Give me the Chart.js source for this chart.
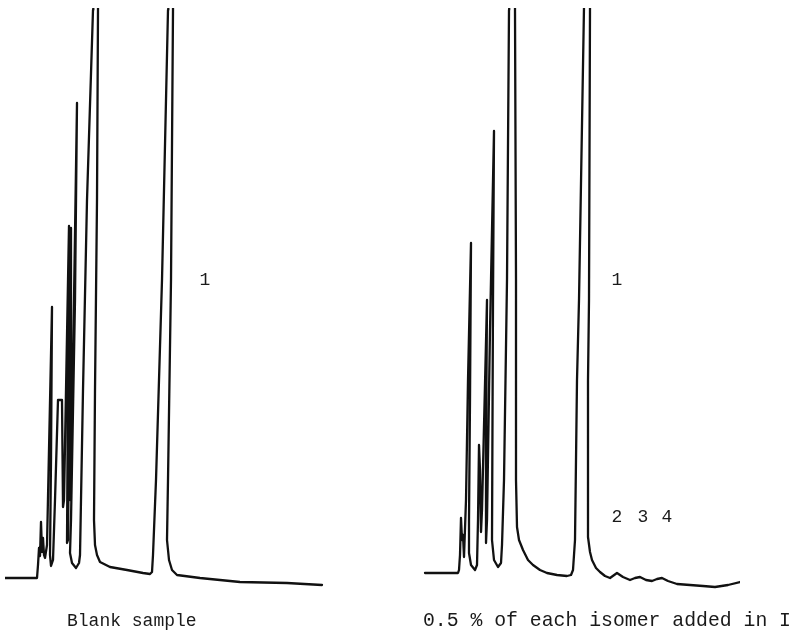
<!DOCTYPE html>
<html>
<head>
<meta charset="utf-8">
<script src="https://cdn.jsdelivr.net/npm/chart.js@4.4.1/dist/chart.umd.min.js"></script>
<style>
  html, body { margin: 0; padding: 0; background: #fff; }
  #wrap { position: relative; width: 797px; height: 636px; overflow: hidden; }
  .cv { position: absolute; top: 0; }
</style>
</head>
<body>
<div id="wrap">
  <div class="cv" style="left:0;width:400px;height:636px"><canvas id="left"></canvas></div>
  <div class="cv" style="left:400px;width:397px;height:636px"><canvas id="right"></canvas></div>
</div>
<script>
// ---- Blank sample trace: retention time (min) and detector response (arbitrary units)
const leftTime = [0, 3.2, 3.3, 3.4, 3.5, 3.6, 3.7, 3.8, 3.9, 4.0, 4.2, 4.7, 4.6, 4.5, 4.6, 4.8, 5.0, 5.3, 5.7, 5.8, 5.9,
  6.4, 6.3, 6.2, 6.3, 6.6, 6.6, 6.5, 6.6, 7.2, 7.0, 6.6, 6.5, 6.7, 7.1, 7.4, 7.5, 7.8, 8.2, 8.8, 8.83, 9.3, 9.3, 9.2,
  9.0, 8.9, 9.0, 9.2, 9.5, 10.5, 12.2, 13.8, 14.5, 14.7, 14.8, 15.1, 15.7, 16.3, 16.33, 16.8, 16.8, 16.6, 16.3, 16.2,
  16.4, 16.7, 17.2, 19.5, 23.5, 28.2, 31.7];
const leftResponse = [0, 0, 13, 30, 22, 56, 26, 40, 23, 20, 33, 271, 118, 23, 12, 18, 78, 178, 178, 71, 78,
  352, 198, 35, 38, 350, 178, 78, 83, 475, 278, 58, 25, 15, 10, 15, 23, 188, 378, 568, 618, 618, 568, 378,
  188, 58, 33, 23, 16, 11, 8, 5, 4, 6, 23, 98, 298, 568, 618, 618, 568, 298, 98, 38,
  18, 8, 3, 0, -4, -5, -7];

// ---- Spiked sample trace (0.5 % of each isomer added)
const rightTime = [0.5, 3.8, 3.9, 4.0, 4.1, 4.2, 4.3, 4.4, 4.6, 4.8, 5.1, 5.0, 4.9, 4.9, 5.1, 5.5, 5.7, 5.8, 5.9, 6.0,
  6.1, 6.2, 6.7, 6.6, 6.6, 6.7, 7.0, 7.4, 7.3, 7.2, 7.4, 7.8, 8.1, 8.2, 8.4, 8.7, 8.9, 8.92, 9.5, 9.5, 9.6, 9.6,
  9.7, 9.9, 10.3, 10.8, 11.3, 12.0, 12.7, 13.7, 14.7, 15.1, 15.3, 15.5, 15.7, 15.9, 16.4, 16.42, 17.0, 17.0, 16.9,
  16.8, 16.8, 17.0, 17.2, 17.6, 18.0, 18.5, 19.0, 19.7, 20.3, 21.0, 21.5, 22.0, 22.6, 23.2, 23.7, 24.2, 24.8,
  25.7, 27.0, 28.3, 29.5, 30.8, 32.0];
const rightResponse = [5, 5, 8, 23, 60, 38, 43, 21, 78, 198, 335, 178, 58, 25, 13, 8, 13, 58, 133, 108,
  46, 68, 278, 128, 35, 58, 248, 447, 278, 38, 18, 11, 15, 33, 98, 298, 568, 618, 618, 568, 298, 98,
  51, 38, 28, 18, 13, 8, 5, 3, 2, 3, 8, 38, 198, 278, 571, 618, 618, 571, 278,
  198, 41, 26, 18, 10, 6, 2, 0, 5, 1, -2, 0, 1, -2, -3, -1, 0, -3,
  -6, -7, -8, -9, -7, -4];

// ---- Peak labels
const leftPeakLabels = ['1'];
const leftPeakTime = [20.0];
const leftPeakResp = [298];
const rightPeakLabels = ['1', '2', '3', '4'];
const rightPeakTime = [19.7, 19.7, 22.3, 24.7];
const rightPeakResp = [298, 61, 61, 61];

// ---- Captions
const leftCaption = 'Blank sample';
const rightCaption = '0.5 % of each isomer added in I';

const zip = (xs, ys) => xs.map((x, i) => ({ x, y: ys[i] }));

const annotate = {
  id: 'annotate',
  afterDraw(chart, args, opts) {
    const { ctx, scales: { x, y } } = chart;
    ctx.save();
    ctx.fillStyle = '#1a1a1a';
    ctx.textBaseline = 'middle';
    (opts.items || []).forEach(it => {
      ctx.font = it.font;
      ctx.textAlign = it.align || 'center';
      ctx.fillText(it.text, x.getPixelForValue(it.t), y.getPixelForValue(it.r));
    });
    ctx.restore();
  }
};

const MONO = '"Liberation Mono", "DejaVu Sans Mono", monospace';
const LABEL_FONT = '18px ' + MONO;

function makeChart(id, t, r, labels, lt, lr, caption, capT, capSize, padding) {
  const items = labels.map((s, i) => ({ text: s, t: lt[i], r: lr[i], font: LABEL_FONT, align: 'center' }));
  items.push({ text: caption, t: capT, r: -43, font: capSize + 'px ' + MONO, align: 'left' });
  return new Chart(document.getElementById(id), {
    type: 'line',
    data: {
      datasets: [{
        data: zip(t, r),
        borderColor: '#111',
        borderWidth: 2.3,
        pointRadius: 0,
        tension: 0,
        fill: false,
        clip: 0,
        borderJoinStyle: 'round',
        borderCapStyle: 'round'
      }]
    },
    options: {
      responsive: true,
      maintainAspectRatio: false,
      animation: false,
      layout: { padding },
      plugins: { legend: { display: false }, tooltip: { enabled: false }, annotate: { items } },
      scales: {
        x: { type: 'linear', min: 0, max: 32, display: false },
        y: { type: 'linear', min: -12, max: 570, display: false }
      }
    },
    plugins: [annotate]
  });
}

makeChart('left', leftTime, leftResponse, leftPeakLabels, leftPeakTime, leftPeakResp,
  leftCaption, 6.2, 18, { left: 5, right: 75, top: 8, bottom: 46 });
makeChart('right', rightTime, rightResponse, rightPeakLabels, rightPeakTime, rightPeakResp,
  rightCaption, 0.3, 19.8, { left: 20, right: 57, top: 8, bottom: 46 });
</script>
</body>
</html>
